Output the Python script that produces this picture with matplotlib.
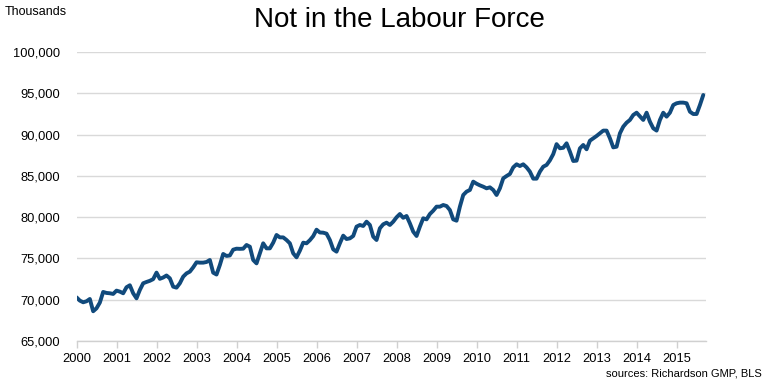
import matplotlib
matplotlib.use("Agg")
import matplotlib.pyplot as plt
from matplotlib.ticker import FuncFormatter, MultipleLocator

plt.rcParams['font.family'] = ['Liberation Sans', 'DejaVu Sans']

start_year = 2000
# Monthly values, thousands (Jan 2000 .. Sep 2015)
y2000 = [70290, 69890, 69690, 69810, 70090, 68600, 68960, 69650, 70940, 70820, 70780, 70700]
y2001 = [71100, 70980, 70780, 71510, 71750, 70780, 70170, 71180, 71990, 72150, 72290, 72490]
y2002 = [73280, 72530, 72690, 72935, 72590, 71580, 71460, 71990, 72790, 73190, 73400, 73920]
y2003 = [74530, 74490, 74490, 74570, 74810, 73275, 73050, 74200, 75540, 75300, 75360, 76060]
y2004 = [76180, 76160, 76180, 76630, 76420, 74810, 74400, 75620, 76830, 76220, 76220, 76910]
y2005 = [77840, 77550, 77550, 77230, 76830, 75620, 75130, 75940, 76910, 76830, 77210, 77700]
y2006 = [78480, 78140, 78120, 78000, 77230, 76100, 75820, 76830, 77760, 77350, 77430, 77720]
y2007 = [78850, 79050, 78930, 79450, 79050, 77640, 77230, 78650, 79130, 79330, 79050, 79450]
y2008 = [79980, 80380, 79920, 80140, 79250, 78240, 77720, 78850, 79860, 79730, 80380, 80780]
y2009 = [81270, 81270, 81470, 81350, 80860, 79730, 79570, 81270, 82680, 83090, 83290, 84300]
y2010 = [84050, 83850, 83690, 83490, 83610, 83290, 82680, 83490, 84700, 84980, 85230, 86030]
y2011 = [86400, 86190, 86400, 86030, 85510, 84660, 84660, 85510, 86110, 86320, 86880, 87630]
y2012 = [88840, 88340, 88400, 88940, 87930, 86800, 86840, 88330, 88740, 88220, 89260, 89550]
y2013 = [89830, 90150, 90480, 90480, 89550, 88450, 88530, 90150, 90960, 91440, 91770, 92370]
y2014 = [92650, 92210, 91770, 92650, 91560, 90760, 90480, 91770, 92650, 92170, 92650, 93580]
y2015 = [93790, 93870, 93870, 93790, 92770, 92490, 92490, 93580, 94790]

values = (y2000 + y2001 + y2002 + y2003 + y2004 + y2005 + y2006 + y2007 +
          y2008 + y2009 + y2010 + y2011 + y2012 + y2013 + y2014 + y2015)
dates = [start_year + i / 12.0 for i in range(len(values))]

year_ticks = list(range(2000, 2016))

fig = plt.figure(figsize=(7.68, 3.84), dpi=100)
ax = fig.add_axes([76.5 / 768, 1 - 341 / 384, (706 - 76.5) / 768, (341 - 52) / 384])

ax.plot(dates, values, color='#114A7C', linewidth=2.8, solid_joinstyle='round',
        solid_capstyle='round', zorder=3)

ax.set_xlim(2000, 2015.735)
ax.set_ylim(65000, 100000)
ax.yaxis.set_major_locator(MultipleLocator(5000))
ax.yaxis.set_major_formatter(FuncFormatter(lambda v, p: f"{int(v):,}"))
ax.set_xticks(year_ticks)
ax.set_xticklabels([str(y) for y in year_ticks])

ax.grid(axis='y', color='#D9D9D9', linewidth=1.0)
ax.set_axisbelow(True)
for s in ['top', 'right', 'left']:
    ax.spines[s].set_visible(False)
ax.spines['bottom'].set_color('#D0D0D0')
ax.spines['bottom'].set_linewidth(1.0)

ax.tick_params(axis='y', length=0, pad=12, labelsize=9.3, colors='#000000')
ax.tick_params(axis='x', length=5, width=1.0, color='#D0D0D0', pad=4, labelsize=9.3, labelcolor='#000000')

fig.text(399 / 768, 1 - 20 / 384, 'Not in the Labour Force', ha='center', va='center', fontsize=20)
fig.text(5 / 768, 1 - 12 / 384, 'Thousands', ha='left', va='center', fontsize=9)
fig.text(762 / 768, 1 - 373 / 384, 'sources: Richardson GMP, BLS', ha='right', va='center', fontsize=8)

fig.savefig('out.png', dpi=100)
